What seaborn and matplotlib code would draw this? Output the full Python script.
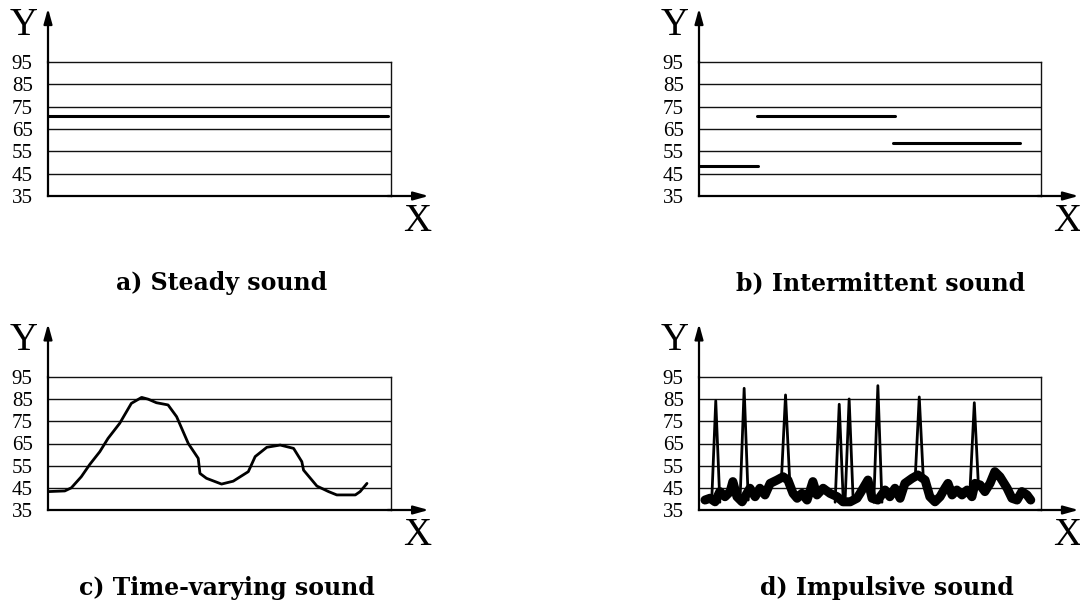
import matplotlib
matplotlib.use("Agg")
import matplotlib.pyplot as plt
import seaborn as sns

# ---------------- data ----------------
yticks = [35, 45, 55, 65, 75, 85, 95]
titles = ["a) Steady sound", "b) Intermittent sound",
          "c) Time-varying sound", "d) Impulsive sound"]

# a) steady
steady_x = [0, 99]
steady_y = [71, 71]

# b) intermittent (segments)
inter_start = [0, 17.0, 56.8]
inter_end = [17.3, 57.3, 93.9]
inter_level = [48.4, 71.0, 58.6]

# c) time-varying
tv_x = [0, 4.9, 6.8, 9.7, 12.2, 15.1, 17.5, 20.9, 24.3, 27.3, 29.2, 31.6, 35.0,
        37.5, 40.9, 43.8, 44.3, 46.2, 50.6, 54.0, 58.4, 60.4, 63.8, 67.7, 71.6,
        74.0, 74.5, 78.4, 81.8, 84.2, 89.6, 91.0, 93.0]
tv_y = [43.3, 43.6, 45.0, 50.0, 55.6, 61.3, 67.3, 74.1, 83.1, 85.8, 85.0, 83.4,
        82.4, 77.1, 65.0, 58.3, 51.5, 49.3, 46.7, 48.0, 52.3, 59.1, 63.3, 64.3,
        62.8, 56.8, 53.0, 45.8, 43.3, 41.8, 41.8, 43.3, 47.0]

# d) impulsive: background level
imp_x = [1.75, 3.2, 4.7, 6.1, 7.6, 9.1, 9.9, 11.1, 12.6, 14.0, 14.9, 16.4, 17.8,
         19.3, 20.8, 22.8, 24.6, 26.0, 27.5, 28.7, 30.1, 31.6, 33.3, 34.5, 36.3,
         38.3, 40.4, 42.1, 44.2, 46.2, 47.1, 49.4, 50.6, 52.3, 54.4, 55.8, 57.3,
         58.8, 60.2, 62.3, 64.0, 66.1, 67.5, 69.0, 70.5, 71.9, 72.8, 74.0, 75.4,
         76.9, 78.4, 79.8, 80.7, 82.2, 83.6, 85.1, 86.5, 88.0, 90.1, 91.5, 93.0,
         94.4, 95.9, 97.0]
imp_y = [39.5, 40.3, 38.7, 43.3, 41.0, 43.3, 47.8, 41.0, 38.7, 42.5, 44.8, 41.0,
         44.8, 41.8, 47.0, 48.5, 50.0, 48.5, 42.5, 40.3, 42.5, 39.5, 47.8, 41.8,
         44.8, 42.5, 41.0, 38.7, 38.7, 40.3, 42.5, 48.5, 40.3, 39.5, 44.0, 41.0,
         44.8, 40.3, 47.0, 49.3, 50.8, 48.5, 41.0, 38.7, 41.0, 44.8, 47.0, 41.8,
         44.0, 41.8, 44.0, 41.0, 47.0, 46.3, 43.3, 47.0, 52.3, 50.0, 44.8, 40.3,
         39.5, 43.3, 41.8, 39.5]
# d) impulses
spike_x = [4.9, 13.2, 25.3, 41.0, 43.9, 52.3, 64.4, 80.5]
spike_peak = [84.3, 89.9, 86.9, 82.7, 85.1, 91.1, 86.0, 83.4]
spike_foot = [38.5, 39.5, 49.0, 38.5, 38.5, 38.5, 49.0, 46.0]
spike_halfwidth = 1.2

# ---------------- style ----------------
sns.set_style("white")
plt.rcParams["font.family"] = ["Liberation Serif", "DejaVu Serif"]
plt.rcParams["text.color"] = "black"
plt.rcParams["ytick.color"] = "black"
plt.rcParams["xtick.color"] = "black"

W, H = 1080, 616
fig = plt.figure(figsize=(W / 100, H / 100), dpi=100)

panels = {
    "a": (48, 196, 343, 134),
    "b": (699, 196, 342, 134),
    "c": (48, 510, 343, 133),
    "d": (699, 510, 342, 133),
}
axes = {}
for key, (x0, ybot, w, h) in panels.items():
    ax = fig.add_axes([x0 / W, (H - ybot) / H, w / W, h / H])
    ax.set_xlim(0, 100)
    ax.set_ylim(35, 95)
    ax.set_yticks(yticks)
    ax.set_yticklabels([str(t) for t in yticks], fontsize=15, color="black")
    ax.set_xticks([])
    ax.tick_params(axis="y", length=0, pad=11)
    for t in yticks[1:-1]:
        ax.axhline(t, color="#111111", lw=1.0, zorder=1)
    for s in ["top", "right"]:
        ax.spines[s].set_color("#111111")
        ax.spines[s].set_linewidth(1.0)
    for s in ["left", "bottom"]:
        ax.spines[s].set_color("black")
        ax.spines[s].set_linewidth(1.6)
    ax.annotate("", xy=(1.11, 0), xytext=(0.99, 0), xycoords="axes fraction",
                arrowprops=dict(arrowstyle="-|>,head_length=0.9,head_width=0.25",
                                color="black", lw=1.6, shrinkA=0, shrinkB=0),
                annotation_clip=False)
    ax.annotate("", xy=(0, 1.40), xytext=(0, 0.99), xycoords="axes fraction",
                arrowprops=dict(arrowstyle="-|>,head_length=0.9,head_width=0.25",
                                color="black", lw=1.6, shrinkA=0, shrinkB=0),
                annotation_clip=False)
    ax.text(-0.07, 1.275, "Y", transform=ax.transAxes, fontsize=28,
            ha="center", va="center", color="black")
    ax.text(1.077, -0.19, "X", transform=ax.transAxes, fontsize=28,
            ha="center", va="center", color="black")
    axes[key] = ax

# a) steady
sns.lineplot(x=steady_x, y=steady_y, ax=axes["a"], color="black", lw=2.2,
             estimator=None, sort=False, zorder=3)

# b) intermittent
for xs, xe, lv in zip(inter_start, inter_end, inter_level):
    sns.lineplot(x=[xs, xe], y=[lv, lv], ax=axes["b"], color="black", lw=2.2,
                 estimator=None, sort=False, zorder=3)

# c) time-varying
sns.lineplot(x=tv_x, y=tv_y, ax=axes["c"], color="black", lw=2.0,
             estimator=None, sort=False, zorder=3,
             solid_joinstyle="round", solid_capstyle="round")

# d) impulsive
for sx, sp, sf in zip(spike_x, spike_peak, spike_foot):
    sns.lineplot(x=[sx - spike_halfwidth, sx, sx + spike_halfwidth],
                 y=[sf, sp, sf], ax=axes["d"], color="black", lw=2.0,
                 estimator=None, sort=False, zorder=3)
sns.lineplot(x=imp_x, y=imp_y, ax=axes["d"], color="black", lw=6.5,
             estimator=None, sort=False, zorder=4,
             solid_joinstyle="round", solid_capstyle="round")

for ax in axes.values():
    ax.set_xlabel("")
    ax.set_ylabel("")
    ax.set_xlim(0, 100)
    ax.set_ylim(35, 95)

# titles
title_pos = [(222, 283), (881, 283), (227, 588), (887, 588)]
for t, (px, py) in zip(titles, title_pos):
    fig.text(px / W, 1 - py / H, t, fontsize=17, fontweight="bold",
             family=["DejaVu Serif"], ha="center", va="center", color="black")

fig.savefig("out.png", dpi=100)
